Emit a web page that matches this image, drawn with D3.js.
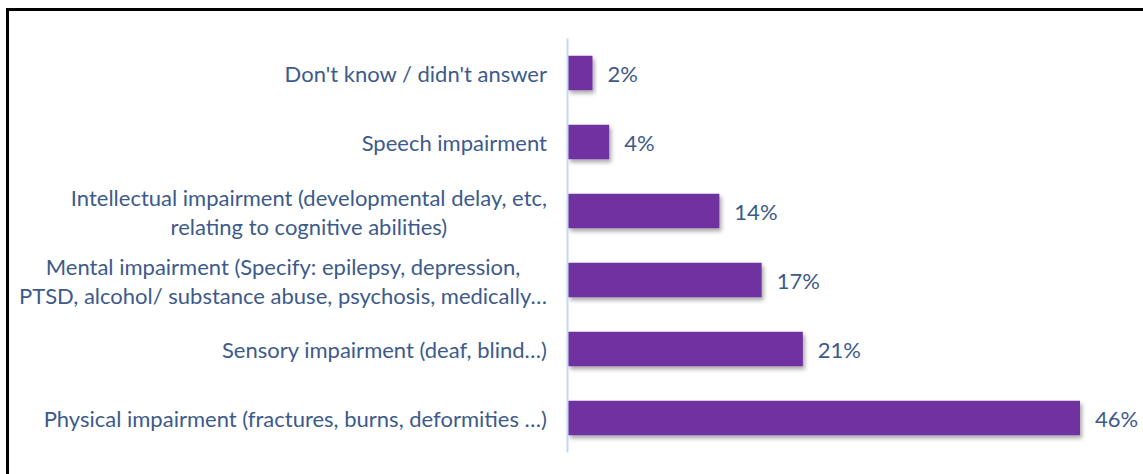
<!DOCTYPE html>
<html><head><meta charset="utf-8">
<script src="https://cdn.jsdelivr.net/npm/d3@7"></script>
<style>
html,body{margin:0;padding:0;background:#fff;}
svg{display:block;}
</style></head>
<body>
<svg id="chart" width="1143" height="474"></svg>
<script>
const categories = [
  ["Don't know / didn't answer"],
  ["Speech impairment"],
  ["Intellectual impairment (developmental delay, etc,", "relating to cognitive abilities)"],
  ["Mental impairment (Specify: epilepsy, depression,", "PTSD, alcohol/ substance abuse, psychosis, medically…"],
  ["Sensory impairment (deaf, blind…)"],
  ["Physical impairment (fractures, burns, deformities …)"]
];
const values = [2.2, 3.7, 13.6, 17.4, 21.1, 46];
const valueLabels = ["2%", "4%", "14%", "17%", "21%", "46%"];

const svg = d3.select("#chart");
const W = 1143, H = 474;
const textColor = "#3d5a8c";
const barColor = "#7030a0";
const font = "Lato, 'Open Sans', sans-serif";
const fs = 22;

// frame
svg.append("rect").attr("x", 7.5).attr("y", 9.5).attr("width", W + 20).attr("height", H + 20)
  .attr("fill", "#fff").attr("stroke", "#000").attr("stroke-width", 3);

const defs = svg.append("defs");
const f = defs.append("filter").attr("id", "shadow").attr("x", "-5%").attr("y", "-20%").attr("width", "120%").attr("height", "160%");
f.append("feDropShadow").attr("dx", 2).attr("dy", 3).attr("stdDeviation", 2).attr("flood-color", "#000").attr("flood-opacity", 0.35);

const x0 = 568;
const x = d3.scaleLinear().domain([0, 46]).range([x0, 1080]);
const idx = d3.range(categories.length);
const y = d3.scaleBand().domain(idx).range([38.5, 452.5]).paddingInner(0.5).paddingOuter(0.25);

// bars
svg.append("g").selectAll("rect").data(idx).join("rect")
  .attr("x", x(0))
  .attr("y", i => y(i))
  .attr("width", i => x(values[i]) - x(0))
  .attr("height", y.bandwidth())
  .attr("fill", barColor)
  .attr("filter", "url(#shadow)");

// axis line
const yAxis = d3.axisLeft(y).tickSize(0).tickFormat("");
const ag = svg.append("g").attr("transform", `translate(${x0 - 0.5},0)`).call(yAxis);
ag.select(".domain").attr("stroke", "#c5d9f1").attr("stroke-width", 2).attr("d", "M0,38.5V452.5");

// category labels (multi-line labels centred on each other, block right-aligned)
const lh = 29;
const right = 547;
const lg = svg.append("g");
idx.forEach(i => {
  const lines = categories[i];
  const cy = y(i) + y.bandwidth() / 2;
  const t = lg.append("text")
    .attr("font-family", font).attr("font-size", fs).attr("fill", textColor)
    .attr("dominant-baseline", "central");
  const spans = lines.map((ln, k) => t.append("tspan")
    .attr("y", cy - (lines.length - 1) * lh / 2 + k * lh).text(ln));
  const maxW = d3.max(spans, s => s.node().getComputedTextLength());
  const cx = right - maxW / 2;
  spans.forEach(s => s.attr("x", cx).attr("text-anchor", "middle"));
});

// value labels
svg.append("g").selectAll("text").data(idx).join("text")
  .attr("x", i => x(values[i]) + 15)
  .attr("y", i => y(i) + y.bandwidth() / 2)
  .attr("dominant-baseline", "central")
  .attr("font-family", font).attr("font-size", fs).attr("fill", textColor)
  .text(i => valueLabels[i]);
</script>
</body></html>
